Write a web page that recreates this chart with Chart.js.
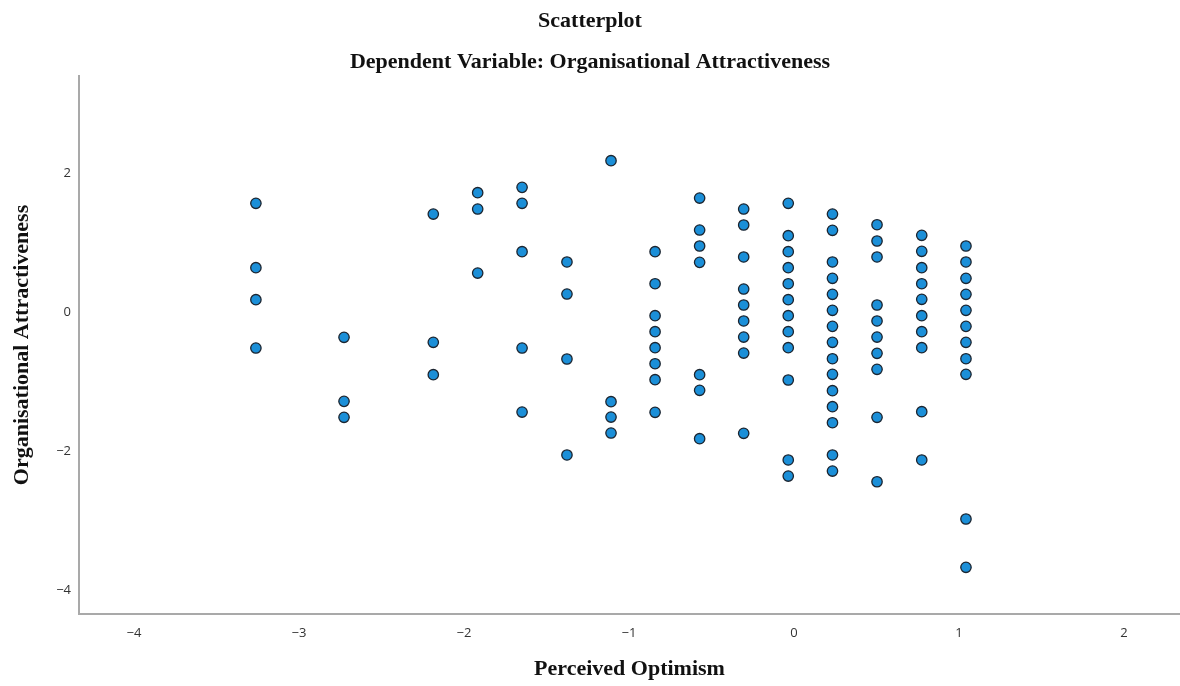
<!DOCTYPE html>
<html>
<head>
<meta charset="utf-8">
<script src="https://cdn.jsdelivr.net/npm/chart.js@4/dist/chart.umd.min.js"></script>
<style>
  html, body { margin: 0; padding: 0; background: #ffffff; }
  #wrap { width: 1180px; height: 686px; position: relative; }
</style>
</head>
<body>
<div id="wrap"><canvas id="c" width="1180" height="686"></canvas></div>
<script>
// Perceived Optimism (x) columns and Organisational Attractiveness (y) values
const xLevels = [-3.261, -2.727, -2.186, -1.917, -1.648, -1.376, -1.109, -0.842, -0.572, -0.305, -0.035, 0.233, 0.503, 0.774, 1.042];
const yByLevel = [
  [1.571, 0.645, 0.184, -0.511],
  [-0.357, -1.278, -1.508],
  [1.417, -0.429, -0.895],
  [1.724, 1.489, 0.568],
  [1.801, 1.571, 0.875, -0.511, -1.432],
  [0.727, 0.266, -0.669, -2.050],
  [2.184, -1.283, -1.504, -1.734],
  [0.875, 0.414, -0.046, -0.276, -0.506, -0.737, -0.967, -1.436],
  [1.647, 1.187, 0.957, 0.722, -0.895, -1.119, -1.816],
  [1.489, 1.259, 0.799, 0.338, 0.108, -0.122, -0.353, -0.583, -1.738],
  [1.571, 1.105, 0.875, 0.645, 0.414, 0.184, -0.046, -0.276, -0.506, -0.971, -2.122, -2.353],
  [1.417, 1.183, 0.727, 0.492, 0.262, 0.032, -0.199, -0.429, -0.665, -0.889, -1.125, -1.355, -1.586, -2.050, -2.281],
  [1.263, 1.029, 0.799, 0.108, -0.122, -0.353, -0.587, -0.817, -1.508, -2.435],
  [1.111, 0.881, 0.645, 0.414, 0.190, -0.046, -0.276, -0.506, -1.427, -2.122],
  [0.957, 0.727, 0.492, 0.262, 0.032, -0.199, -0.429, -0.665, -0.889, -2.971, -3.666]
];
const xTickValues = [-4, -3, -2, -1, 0, 1, 2];
const yTickValues = [-4, -2, 0, 2];
const xRange = [-4.333, 2.339];
const yRange = [-4.338, 3.403];

const points = [];
xLevels.forEach((x, i) => yByLevel[i].forEach(y => points.push({x: x, y: y})));

const fmt = v => (v < 0 ? '\u2212' + Math.abs(v) : String(v));
const tickFont = { family: "'Open Sans', 'Noto Sans', sans-serif", size: 13 };
const serifBold = { family: "'Liberation Serif', 'Times New Roman', serif", size: 22, weight: 'bold' };

new Chart(document.getElementById('c'), {
  type: 'scatter',
  data: {
    datasets: [{
      data: points,
      pointRadius: 5.2,
      pointHoverRadius: 5.2,
      pointBackgroundColor: '#1b8fd8',
      pointBorderColor: '#1c2530',
      pointBorderWidth: 1.3
    }]
  },
  options: {
    responsive: false,
    animation: false,
    layout: { padding: 0, autoPadding: false },
    plugins: {
      legend: { display: false },
      tooltip: { enabled: false },
      title: {
        display: true,
        text: 'Scatterplot',
        color: '#111',
        font: serifBold,
        padding: { top: 8, bottom: 0 }
      },
      subtitle: {
        display: true,
        text: 'Dependent Variable: Organisational Attractiveness',
        color: '#111',
        font: serifBold,
        padding: { top: 14.4, bottom: 0.8 }
      }
    },
    scales: {
      x: {
        type: 'linear',
        min: xRange[0],
        max: xRange[1],
        afterBuildTicks: s => { s.ticks = xTickValues.map(v => ({ value: v })); },
        afterFit: s => { s.height = 72; s.paddingLeft = 0; s.paddingRight = 0; },
        grid: { display: false, drawTicks: false },
        border: { display: true, color: '#a9a9a9', width: 2 },
        ticks: { color: '#333', font: tickFont, padding: 11, callback: v => fmt(v), maxRotation: 0 },
        title: {
          display: true,
          text: 'Perceived Optimism',
          color: '#111',
          font: serifBold,
          padding: { top: 0, bottom: 3.3 }
        }
      },
      y: {
        type: 'linear',
        min: yRange[0],
        max: yRange[1],
        afterBuildTicks: s => { s.ticks = yTickValues.map(v => ({ value: v })); },
        afterFit: s => { s.width = 79; s.paddingTop = 0; s.paddingBottom = 0; },
        grid: { display: false, drawTicks: false },
        border: { display: true, color: '#a9a9a9', width: 2 },
        ticks: { color: '#333', font: tickFont, padding: 8, callback: v => fmt(v) },
        title: {
          display: true,
          text: 'Organisational Attractiveness',
          color: '#111',
          font: serifBold,
          padding: { top: 9.3, bottom: 0 }
        }
      }
    }
  }
});
</script>
</body>
</html>
